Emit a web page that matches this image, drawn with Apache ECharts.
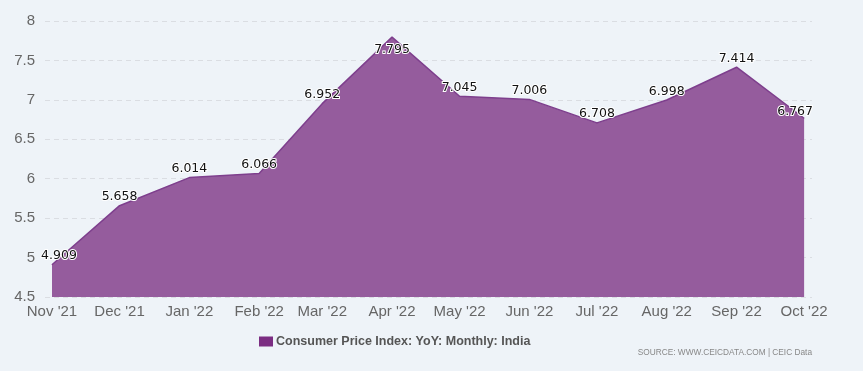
<!DOCTYPE html>
<html>
<head>
<meta charset="utf-8">
<script src="https://cdn.jsdelivr.net/npm/echarts@6/dist/echarts.min.js"></script>
<style>
html,body{margin:0;padding:0;background:#EEF3F8;}
#c{width:863px;height:371px;}
</style>
</head>
<body>
<div id="c"></div>
<script>
const dates = ['2021-11-01','2021-12-01','2022-01-01','2022-02-01','2022-03-01','2022-04-01','2022-05-01','2022-06-01','2022-07-01','2022-08-01','2022-09-01','2022-10-01'];
const values = [4.909, 5.658, 6.014, 6.066, 6.952, 7.795, 7.045, 7.006, 6.708, 6.998, 7.414, 6.767];
const monthNames = ['Jan','Feb','Mar','Apr','May','Jun','Jul','Aug','Sep','Oct','Nov','Dec'];
const seriesName = 'Consumer Price Index: YoY: Monthly: India';

const DAY = 86400000;
const data = dates.map((d, i) => {
  const item = { value: [d, values[i]] };
  if (i === 5) item.label = { position: 'bottom', distance: 6 };
  if (i === 0) item.label = { offset: [7, 0] };
  if (i === values.length - 1) item.label = { offset: [-9, 2] };
  return item;
});

const chart = echarts.init(document.getElementById('c'));
chart.setOption({
  backgroundColor: '#EEF3F8',
  animation: false,
  grid: { left: 45, right: 51, top: 21, bottom: 74, containLabel: false },
  xAxis: {
    type: 'time',
    min: new Date('2021-11-01').getTime() - 3.1 * DAY,
    max: new Date('2022-10-01').getTime() + 3.5 * DAY,
    minInterval: 28 * DAY,
    maxInterval: 31 * DAY,
    axisLine: { show: false },
    axisTick: { show: false },
    splitLine: { show: false },
    axisLabel: {
      color: '#666',
      fontSize: 15,
      fontFamily: 'Liberation Sans, Arial, sans-serif',
      margin: 7,
      showMinLabel: false,
      showMaxLabel: false,
      formatter: function (v) {
        const d = new Date(v);
        return monthNames[d.getMonth()] + " '" + String(d.getFullYear()).slice(2);
      }
    }
  },
  yAxis: {
    type: 'value',
    min: 4.5,
    max: 8,
    interval: 0.5,
    axisLine: { show: false },
    axisTick: { show: false },
    axisLabel: {
      color: '#666',
      fontSize: 15,
      fontFamily: 'Liberation Sans, Arial, sans-serif',
      margin: 10
    },
    splitLine: { show: true, lineStyle: { color: '#DADDE2', type: [5, 4], width: 1 } }
  },
  legend: {
    bottom: 18,
    left: 254,
    itemWidth: 14,
    itemHeight: 10,
    itemGap: 6,
    icon: 'rect',
    textStyle: { color: '#555', fontSize: 12.5, fontWeight: 'bold', fontFamily: 'Liberation Sans, Arial, sans-serif', padding: [0, 0, 0, -2] },
    data: [{ name: seriesName, itemStyle: { color: '#7B2D82', opacity: 1 } }]
  },
  graphic: [{
    type: 'text',
    right: 51,
    bottom: 14,
    style: { text: 'SOURCE: WWW.CEICDATA.COM | CEIC Data', fill: '#888', fontSize: 8.3, fontFamily: 'Liberation Sans, Arial, sans-serif' }
  }],
  series: [{
    name: seriesName,
    type: 'line',
    data: data,
    symbol: 'circle',
    symbolSize: 0.5,
    showSymbol: true,
    lineStyle: { color: '#7E3F8D', width: 1.5 },
    itemStyle: { color: '#7B2D82' },
    areaStyle: { color: '#955C9D', opacity: 1 },
    label: {
      show: true,
      position: 'top',
      distance: 2,
      color: '#111',
      fontSize: 12.5,
      fontFamily: 'DejaVu Sans, Verdana, sans-serif',
      textBorderColor: '#fff',
      textBorderWidth: 2,
      formatter: p => p.value[1].toFixed(3)
    }
  }]
});
</script>
</body>
</html>
